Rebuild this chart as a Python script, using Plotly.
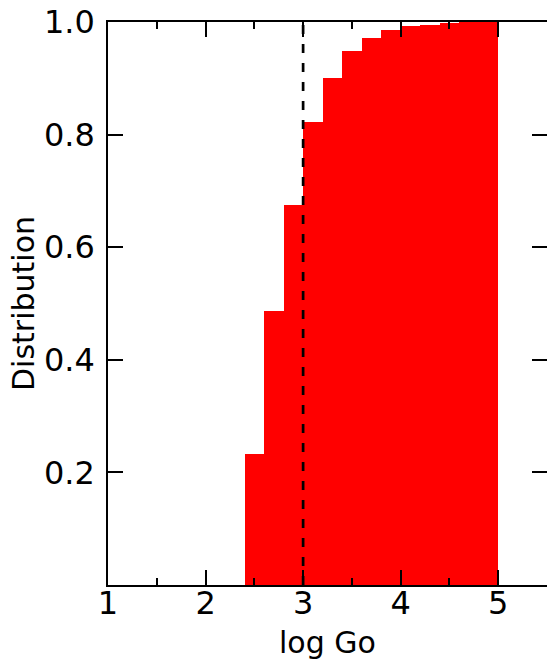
import plotly.graph_objects as go

bin_left = [2.4, 2.6, 2.8, 3.0, 3.2, 3.4, 3.6, 3.8, 4.0, 4.2, 4.4, 4.6, 4.8]
bin_width = 0.2
cum_dist = [0.232, 0.486, 0.675, 0.822, 0.901, 0.949, 0.972, 0.986, 0.993, 0.995, 0.998, 1.0, 1.0]
threshold = 3.0
x_ticks = [1, 2, 3, 4, 5]
y_ticks = [0.2, 0.4, 0.6, 0.8, 1.0]
y_tick_labels = ["0.2", "0.4", "0.6", "0.8", "1.0"]

fig = go.Figure()
fig.add_trace(go.Bar(
    x=[b + bin_width / 2 for b in bin_left], y=cum_dist, width=bin_width,
    marker=dict(color="#ff0000", line=dict(width=0)), showlegend=False,
))
fig.add_trace(go.Scatter(
    x=[threshold, threshold], y=[0, 1], mode="lines",
    line=dict(color="black", width=2.7, dash="9px,10px"), showlegend=False,
))

tfont = dict(family="DejaVu Sans", size=32, color="black")
lfont = dict(family="DejaVu Sans", size=30, color="black")
fig.update_layout(
    width=547, height=660,
    margin=dict(l=108, r=0, t=22, b=75, autoexpand=False),
    paper_bgcolor="white", plot_bgcolor="white",
    font=tfont, bargap=0,
    xaxis=dict(
        range=[1, 5.5], tickvals=x_ticks, ticks="inside", ticklen=15, tickwidth=1.5,
        tickcolor="black", showline=True, linecolor="black", linewidth=1.5,
        mirror="ticks", showgrid=False, zeroline=False, layer="above traces",
        minor=dict(ticks="inside", ticklen=7, tickwidth=1.5, dtick=0.5, tick0=1, tickcolor="black", showgrid=False),
        tickfont=tfont, ticklabelstandoff=-11,
    ),
    yaxis=dict(
        range=[0, 1], tickvals=y_ticks, ticktext=y_tick_labels, ticks="inside", ticklen=15,
        tickwidth=1.5, tickcolor="black", showline=True, linecolor="black", linewidth=1.5,
        mirror=False, showgrid=False, zeroline=False, layer="above traces",
        title=dict(text="Distribution", font=lfont, standoff=0),
        tickfont=tfont, ticklabelstandoff=5,
    ),
    yaxis2=dict(
        range=[0, 1], tickvals=y_ticks, overlaying="y", side="right", matches="y",
        ticks="inside", ticklen=15, tickwidth=1.5, tickcolor="black",
        showline=False, showgrid=False, zeroline=False, showticklabels=False,
        layer="above traces",
    ),
    annotations=[dict(
        text="log Go", xref="paper", yref="paper", x=0.5, y=-0.102,
        xanchor="center", yanchor="middle", showarrow=False, font=lfont,
    )],
)
fig.add_trace(go.Scatter(x=[None], y=[None], yaxis="y2", showlegend=False, hoverinfo="skip"))
fig.write_html("out.html")
